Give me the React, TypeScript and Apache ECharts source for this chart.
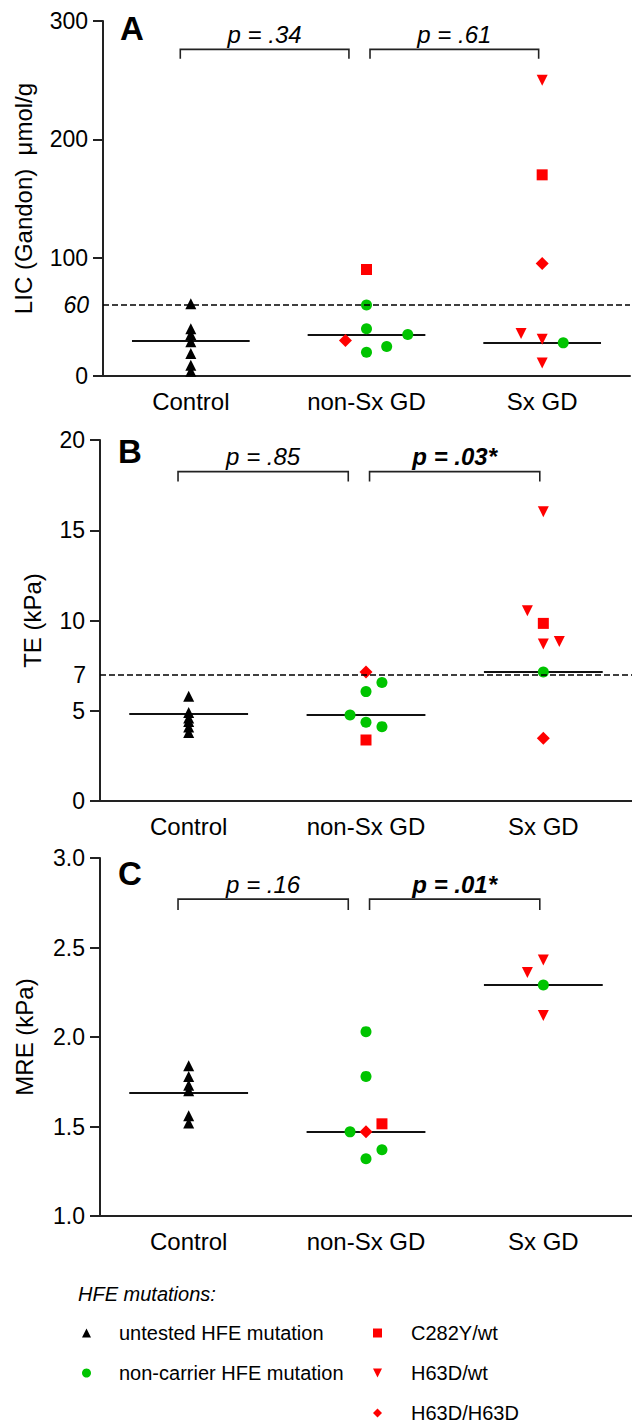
import React, { useEffect, useRef } from 'react';
import * as echarts from 'echarts';

// ---------- data ----------
const categories = ['Control', 'non-Sx GD', 'Sx GD'];
const genotypeNames = ['untested HFE mutation', 'non-carrier HFE mutation', 'C282Y/wt', 'H63D/wt', 'H63D/H63D'];
const genotypeSymbols = ['triangle', 'circle', 'rect', 'triangle', 'diamond'];
const genotypeRotations = [0, 0, 0, 180, 0];
const genotypeLegendIcons = ['triangle', 'circle', 'rect', 'path://M0,0 L10,0 L5,10 Z', 'diamond'];
const genotypeColors = ['#000000', '#00c400', '#ff0000', '#ff0000', '#ff0000'];
const genotypeSizes = [11, 11, 11, 11, 13];

// points: [group index, horizontal jitter (category units), value]
// Panel A: LIC (Gandon) µmol/g
const licUntested = [[0, 0, 61], [0, 0, 40], [0, 0, 35], [0, 0, 29], [0, 0, 19], [0, 0, 9], [0, 0, 4]];
const licNonCarrier = [[1, 0, 60], [1, 0, 40], [1, 0.235, 35], [1, 0.115, 25], [1, 0, 20], [2, 0.12, 28]];
const licC282Y = [[1, 0, 90], [2, 0, 170]];
const licH63D = [[2, 0, 250], [2, -0.12, 36], [2, 0, 31], [2, 0, 11]];
const licH63DH63D = [[1, -0.12, 30], [2, 0, 95]];
const licMedians = [30, 35, 28];

// Panel B: TE (kPa)
const teUntested = [[0, 0, 5.8], [0, 0, 4.9], [0, 0, 4.6], [0, 0, 4.4], [0, 0, 4.1], [0, 0, 3.8]];
const teNonCarrier = [[1, 0.09, 6.56], [1, 0, 6.06], [1, -0.09, 4.76], [1, 0, 4.36], [1, 0.09, 4.12], [2, 0, 7.15]];
const teC282Y = [[1, 0, 3.38], [2, 0, 9.84]];
const teH63D = [[2, 0, 16.03], [2, -0.09, 10.54], [2, 0.09, 8.83], [2, 0, 8.7]];
const teH63DH63D = [[1, 0, 7.15], [2, 0, 3.47]];
const teMedians = [4.86, 4.76, 7.15];

// Panel C: MRE (kPa)
const mreUntested = [[0, 0, 1.84], [0, 0, 1.78], [0, 0, 1.73], [0, 0, 1.7], [0, 0, 1.56], [0, 0, 1.52]];
const mreNonCarrier = [[1, 0, 2.03], [1, 0, 1.78], [1, -0.09, 1.47], [1, 0.09, 1.37], [1, 0, 1.32], [2, 0, 2.29]];
const mreC282Y = [[1, 0.09, 1.515]];
const mreH63D = [[2, 0, 2.43], [2, -0.09, 2.36], [2, 0, 2.12]];
const mreH63DH63D = [[1, 0, 1.47]];
const mreMedians = [1.69, 1.47, 2.29];

// brackets (category units) and p-values
const bracketSpans = [[-0.06, 0.9], [1.02, 1.98]];
const bracketLevelsA = [276, 268];
const bracketLevelsB = [18.25, 17.7];
const bracketLevelsC = [2.77, 2.71];
const pTextsA = ['p = .34', 'p = .61'];
const pTextsB = ['p = .85', 'p = .03*'];
const pTextsC = ['p = .16', 'p = .01*'];
const pBoldB = [false, true];
const pBoldC = [false, true];

// reference lines
const refLineA = 60;
const refLineB = 7;

// axes
const yTicksA = { min: 0, max: 300, interval: 100 };
const yTicksB = { min: 0, max: 20, interval: 5 };
const yTicksC = { min: 1.0, max: 3.0, interval: 0.5 };

const FONT = "'Liberation Sans', Arial, Helvetica, sans-serif";
const INK = '#000000';

export default function App() {
  const ref = useRef<HTMLDivElement>(null);

  useEffect(() => {
    document.body.style.margin = '0';
    const chart = echarts.init(ref.current!, null, { renderer: 'svg' });

    const panels = [
      {
        grid: { left: 103, top: 21, width: 527, height: 355 },
        ticks: yTicksA, name: 'LIC (Gandon)  \u03bcmol/g', nameGap: 68, decimals: 0,
        pts: [licUntested, licNonCarrier, licC282Y, licH63D, licH63DH63D], medians: licMedians,
        levels: bracketLevelsA, ptexts: pTextsA, pbold: [false, false],
        refLine: refLineA as number | null, refItalic: true,
      },
      {
        grid: { left: 100, top: 440, width: 536, height: 361 },
        ticks: yTicksB, name: 'TE (kPa)', nameGap: 56, decimals: 0,
        pts: [teUntested, teNonCarrier, teC282Y, teH63D, teH63DH63D], medians: teMedians,
        levels: bracketLevelsB, ptexts: pTextsB, pbold: pBoldB,
        refLine: refLineB as number | null, refItalic: false,
      },
      {
        grid: { left: 100, top: 858, width: 532, height: 358 },
        ticks: yTicksC, name: 'MRE (kPa)', nameGap: 64, decimals: 1,
        pts: [mreUntested, mreNonCarrier, mreC282Y, mreH63D, mreH63DH63D], medians: mreMedians,
        levels: bracketLevelsC, ptexts: pTextsC, pbold: pBoldC,
        refLine: null as number | null, refItalic: false,
      },
    ];

    const axisLineStyle = { color: '#222', width: 2 };
    const grids: any[] = [];
    const xAxes: any[] = [];
    const yAxes: any[] = [];
    const series: any[] = [];

    panels.forEach((p, pi) => {
      grids.push(p.grid);
      xAxes.push({
        type: 'category', gridIndex: pi, data: categories, boundaryGap: true,
        axisLine: { onZero: false, lineStyle: axisLineStyle },
        axisTick: { alignWithLabel: true, length: 10, lineStyle: axisLineStyle },
        axisLabel: { fontSize: 24, color: INK, margin: 13, fontFamily: FONT },
      });
      xAxes.push({ type: 'value', gridIndex: pi, min: -0.5, max: 2.5, show: false });
      yAxes.push({
        type: 'value', gridIndex: pi, min: p.ticks.min, max: p.ticks.max, interval: p.ticks.interval,
        axisLine: { show: true, onZero: false, lineStyle: axisLineStyle },
        axisTick: { show: true, length: 10, lineStyle: axisLineStyle },
        splitLine: { show: false },
        axisLabel: {
          fontSize: 23, color: INK, margin: 15, fontFamily: FONT,
          formatter: (v: number) => v.toFixed(p.decimals),
        },
        name: p.name, nameLocation: 'middle', nameRotate: 90, nameGap: p.nameGap,
        nameTextStyle: { fontSize: 24, color: INK, fontFamily: FONT },
      });

      const xi = pi * 2 + 1;

      // median lines
      series.push({
        type: 'lines', coordinateSystem: 'cartesian2d', xAxisIndex: xi, yAxisIndex: pi,
        silent: true, z: 1,
        lineStyle: { color: '#111', width: 2, opacity: 1 },
        data: p.medians.map((m, i) => ({ coords: [[i - 0.335, m], [i + 0.335, m]] })),
      });

      // brackets
      series.push({
        type: 'lines', coordinateSystem: 'cartesian2d', xAxisIndex: xi, yAxisIndex: pi,
        polyline: true, silent: true, z: 1,
        lineStyle: { color: '#222', width: 1.6, opacity: 1 },
        data: bracketSpans.map(([a, b]) => ({
          coords: [[a, p.levels[1]], [a, p.levels[0]], [b, p.levels[0]], [b, p.levels[1]]],
        })),
      });

      // p-value texts
      series.push({
        type: 'scatter', xAxisIndex: xi, yAxisIndex: pi, symbolSize: 0, silent: true, z: 3,
        itemStyle: { color: '#000', opacity: 1 },
        label: {
          show: true, position: 'top', distance: 3, fontSize: 24, fontStyle: 'italic',
          color: '#000', opacity: 1, fontFamily: FONT, formatter: (d: any) => d.name,
        },
        data: bracketSpans.map(([a, b], i) => ({
          name: p.ptexts[i], value: [(a + b) / 2, p.levels[0]],
          label: { fontWeight: p.pbold[i] ? 'bold' : 'normal', color: '#000' },
        })),
      });

      // scatter points per genotype
      p.pts.forEach((pts, gi) => {
        const s: any = {
          type: 'scatter', name: genotypeNames[gi], xAxisIndex: xi, yAxisIndex: pi, z: 2,
          symbol: genotypeSymbols[gi], symbolRotate: genotypeRotations[gi], symbolSize: genotypeSizes[gi],
          itemStyle: { color: genotypeColors[gi], opacity: 1 },
          data: pts.map(([g, dx, v]) => [g + dx, v]),
        };
        if (gi === 0 && p.refLine !== null) {
          s.markLine = {
            silent: true, symbol: ['none', 'none'], animation: false,
            lineStyle: { type: [6, 3], color: INK, width: 1.5 },
            label: {
              show: true, position: 'start', distance: 14, fontSize: 23, color: INK, fontFamily: FONT,
              fontStyle: p.refItalic ? 'italic' : 'normal', formatter: String(p.refLine),
            },
            data: [{ yAxis: p.refLine }],
          };
        }
        series.push(s);
      });
    });

    const legendItem = (gi: number) => ({
      name: genotypeNames[gi],
      icon: genotypeLegendIcons[gi],
      itemStyle: { color: genotypeColors[gi] },
    });
    const legendCommon = {
      orient: 'vertical', itemWidth: 9, itemHeight: 9, itemGap: 20, padding: 0, selectedMode: false,
      symbolRotate: 0,
    };

    chart.setOption({
      animation: false,
      textStyle: { fontFamily: FONT },
      grid: grids,
      xAxis: xAxes,
      yAxis: yAxes,
      series,
      legend: [
        {
          ...legendCommon, data: [0, 1].map(legendItem), left: 82, top: 1323,
          textStyle: { fontSize: 20, color: INK, fontFamily: FONT, padding: [0, 0, 0, 23] },
        },
        {
          ...legendCommon, data: [2, 3, 4].map(legendItem), left: 373, top: 1323,
          textStyle: { fontSize: 20, color: INK, fontFamily: FONT, padding: [0, 0, 0, 24] },
        },
      ],
      graphic: [
        { type: 'text', left: 120, top: 12, style: { text: 'A', fontSize: 33, fontWeight: 'bold', fill: INK, fontFamily: FONT } },
        { type: 'text', left: 118, top: 435, style: { text: 'B', fontSize: 33, fontWeight: 'bold', fill: INK, fontFamily: FONT } },
        { type: 'text', left: 118, top: 857, style: { text: 'C', fontSize: 33, fontWeight: 'bold', fill: INK, fontFamily: FONT } },
        { type: 'text', left: 78, top: 1284, style: { text: 'HFE mutations:', fontSize: 20, fontStyle: 'italic', fill: INK, fontFamily: FONT } },
      ],
    });

    return () => chart.dispose();
  }, []);

  return <div ref={ref} style={{ width: 632, height: 1427 }} />;
}
